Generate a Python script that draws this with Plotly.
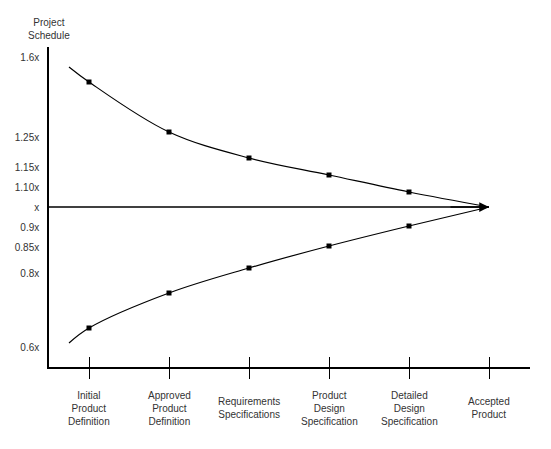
import plotly.graph_objects as go

# Category axis
categories = ["Initial<br>Product<br>Definition", "Approved<br>Product<br>Definition",
              "Requirements<br>Specifications", "Product<br>Design<br>Specification",
              "Detailed<br>Design<br>Specification", "Accepted<br>Product"]
cat_pos = [0, 1, 2, 3, 4, 5]

# Curve x positions (start point before first milestone, then milestones)
curve_x = [-0.25, 0, 1, 2, 3, 4, 5]
upper_y = [1.56, 1.50, 1.30, 1.196, 1.128, 1.06, 1.0]
lower_y = [0.456, 0.516, 0.656, 0.756, 0.844, 0.924, 1.0]

# Milestone markers
marker_x = [0, 1, 2, 3, 4]
upper_marker_y = [1.50, 1.30, 1.196, 1.128, 1.06]
lower_marker_y = [0.516, 0.656, 0.756, 0.844, 0.924]

# Centre line
center_x = [-0.5, 5]
center_y = [1.0, 1.0]

# Y tick labels
ytick_vals = [1.6, 1.28, 1.16, 1.08, 1.0, 0.92, 0.84, 0.736, 0.44]
ytick_text = ["1.6x", "1.25x", "1.15x", "1.10x", "x", "0.9x", "0.85x", "0.8x", "0.6x"]

FONT = "Liberation Sans, Arial, sans-serif"
TXT = "#333333"

fig = go.Figure()
fig.add_trace(go.Scatter(x=curve_x, y=upper_y, mode="lines",
                         line=dict(color="black", width=1.2, shape="spline"), hoverinfo="skip"))
fig.add_trace(go.Scatter(x=curve_x, y=lower_y, mode="lines",
                         line=dict(color="black", width=1.2, shape="spline"), hoverinfo="skip"))
fig.add_trace(go.Scatter(x=center_x, y=center_y, mode="lines",
                         line=dict(color="black", width=1.5)))
# arrow head at end of centre line
fig.add_annotation(x=center_x[1], y=center_y[1], xref="x", yref="y",
                   ax=center_x[1] - 0.5, ay=center_y[1], axref="x", ayref="y",
                   text="", showarrow=True, arrowhead=2, arrowsize=1.3,
                   arrowwidth=1.5, arrowcolor="black")
fig.add_trace(go.Scatter(x=marker_x, y=upper_marker_y, mode="markers",
                         marker=dict(symbol="square", size=5, color="black")))
fig.add_trace(go.Scatter(x=marker_x, y=lower_marker_y, mode="markers",
                         marker=dict(symbol="square", size=5, color="black")))

# x-axis tick labels as centred text
for xp, lab in zip(cat_pos, categories):
    fig.add_annotation(x=xp, xref="x", y=-0.129, yref="paper", text=lab, showarrow=False,
                       xanchor="center", yanchor="middle", align="center",
                       font=dict(family=FONT, size=10, color=TXT))

fig.add_annotation(x=0, xref="paper", y=1.0, yref="paper", yshift=4,
                   text="Project<br>Schedule", showarrow=False,
                   xanchor="center", yanchor="bottom", align="center",
                   font=dict(family=FONT, size=10, color=TXT))

fig.update_layout(
    width=551, height=449,
    margin=dict(l=49, r=21, t=47, b=82),
    paper_bgcolor="white", plot_bgcolor="white",
    showlegend=False,
    xaxis=dict(range=[-0.5, 5.5125], showgrid=False, zeroline=False,
               showline=True, linecolor="black", linewidth=1.5,
               tickvals=cat_pos, ticktext=[""] * len(cat_pos),
               ticks="outside", ticklen=10, tickcolor="black", tickwidth=1),
    xaxis2=dict(range=[-0.5, 5.5125], overlaying="x", anchor="y", side="bottom",
                showgrid=False, zeroline=False, showline=False,
                tickvals=cat_pos, ticktext=[""] * len(cat_pos),
                ticks="inside", ticklen=10, tickcolor="black", tickwidth=1),
    yaxis=dict(range=[0.36, 1.64], showgrid=False, zeroline=False,
               showline=True, linecolor="black", linewidth=1.5,
               tickvals=ytick_vals, ticktext=ytick_text, ticks="",
               ticklabelstandoff=6,
               tickfont=dict(family=FONT, size=10, color=TXT)),
)
# dummy trace to activate xaxis2
fig.add_trace(go.Scatter(x=[None], y=[None], xaxis="x2", yaxis="y", showlegend=False))

fig.write_html("out.html")
